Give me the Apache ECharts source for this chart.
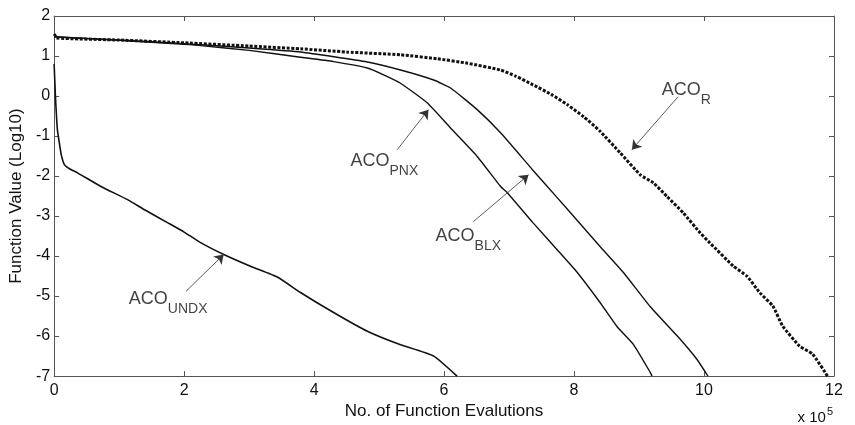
<!DOCTYPE html>
<html><head><meta charset="utf-8">
<script src="https://cdn.jsdelivr.net/npm/echarts@6/dist/echarts.min.js"></script>
<style>html,body{margin:0;padding:0;background:#fff}#c{width:855px;height:425px}</style>
</head><body><div id="c"></div>
<script>
// x in units of 10^5 function evaluations, y = log10 function value
const undxX = [0, 0.02, 0.05, 0.08, 0.11, 0.16, 0.25, 0.36, 0.72, 1.13, 1.4, 1.75, 2.0, 2.26, 2.61, 3.03, 3.44, 3.79, 4.3, 4.82, 5.3, 5.84, 6.2];
const undxY = [0.8, 0.0, -0.84, -1.17, -1.47, -1.72, -1.83, -1.92, -2.26, -2.59, -2.85, -3.17, -3.4, -3.67, -3.96, -4.26, -4.53, -4.91, -5.41, -5.88, -6.2, -6.5, -7.0];

const pnxX = [0, 1, 2, 2.26, 3, 3.79, 4.3, 4.82, 5.07, 5.33, 5.74, 6.1, 6.51, 6.87, 6.97, 7.37, 7.74, 8.05, 8.4, 8.66, 8.91, 9.17, 9.2];
const pnxY = [1.48, 1.39, 1.29, 1.26, 1.14, 0.97, 0.86, 0.70, 0.53, 0.32, -0.17, -0.8, -1.51, -2.26, -2.41, -3.17, -3.84, -4.41, -5.16, -5.76, -6.2, -6.9, -7.0];

const blxX = [0, 1, 2, 3, 3.79, 4.82, 5.33, 5.84, 6.1, 6.51, 6.87, 7.37, 7.74, 8.05, 8.4, 8.76, 9.17, 9.59, 9.89, 10.06];
const blxY = [1.48, 1.40, 1.31, 1.20, 1.10, 0.85, 0.65, 0.40, 0.2, -0.34, -0.92, -1.86, -2.54, -3.11, -3.76, -4.41, -5.26, -6.0, -6.58, -7.0];

const rX = [0, 0.05, 1, 2, 3, 3.79, 4.5, 5.33, 5.9, 6.36, 6.87, 7.1, 7.37, 7.65, 7.9, 8.15, 8.4, 8.71, 9.02, 9.22, 9.43, 9.68, 9.94, 10.09, 10.45, 10.66, 10.86, 11.06, 11.21, 11.47, 11.67, 11.9];
const rY = [1.55, 1.45, 1.40, 1.33, 1.25, 1.18, 1.1, 1.03, 0.93, 0.82, 0.65, 0.5, 0.28, 0.04, -0.22, -0.52, -0.88, -1.42, -1.97, -2.17, -2.51, -2.92, -3.42, -3.67, -4.25, -4.50, -4.92, -5.25, -5.75, -6.25, -6.45, -7.0];

const xTicks = [0, 2, 4, 6, 8, 10, 12];
const yTicks = [-7, -6, -5, -4, -3, -2, -1, 0, 1, 2];

// annotations
const annNames = ['ACO', 'ACO', 'ACO', 'ACO'];
const annSubs = ['UNDX', 'PNX', 'BLX', 'R'];
const annLabelPos = [[1.15, -5.08], [4.56, -1.62], [5.87, -3.51], [9.35, 0.15]];
const annArrowFrom = [[2.03, -4.88], [5.28, -1.34], [6.45, -3.14], [9.60, -0.02]];
const annArrowTo = [[2.61, -3.96], [5.76, -0.34], [7.30, -1.97], [8.89, -1.34]];

const zip = (a, b) => a.map((v, i) => [v, b[i]]);
const FONT = 'Liberation Sans, Arial, sans-serif';
const axisCol = '#555';

const chart = echarts.init(document.getElementById('c'));
const baseX = {
  type: 'value', min: 0, max: 12, interval: 2,
  axisLine: { show: true, onZero: false, lineStyle: { color: axisCol, width: 1 } },
  axisTick: { show: true, inside: true, length: 5, lineStyle: { color: axisCol } },
  splitLine: { show: false }
};
const baseY = {
  type: 'value', min: -7, max: 2, interval: 1,
  axisLine: { show: true, onZero: false, lineStyle: { color: axisCol, width: 1 } },
  axisTick: { show: true, inside: true, length: 5, lineStyle: { color: axisCol } },
  splitLine: { show: false }
};

const lineSeries = (data, style) => ({
  type: 'line', data, symbol: 'none', smooth: 0.15, silent: true,
  lineStyle: style, xAxisIndex: 0, yAxisIndex: 0
});

chart.setOption({
  animation: false,
  textStyle: { fontFamily: FONT },
  grid: { left: 53, right: 21, top: 16, bottom: 48 },
  xAxis: [
    Object.assign({}, baseX, {
      position: 'bottom',
      name: 'No. of Function Evalutions', nameLocation: 'middle', nameGap: 24,
      nameTextStyle: { fontSize: 17, color: '#111', fontFamily: FONT },
      axisLabel: { show: true, fontSize: 16, color: '#111', margin: 6, fontFamily: FONT,
        formatter: v => xTicks.includes(v) ? String(v) : '' }
    }),
    Object.assign({}, baseX, { position: 'top', axisLabel: { show: false } })
  ],
  yAxis: [
    Object.assign({}, baseY, {
      position: 'left',
      name: 'Function Value (Log10)', nameLocation: 'middle', nameGap: 25,
      nameTextStyle: { fontSize: 17, color: '#111', fontFamily: FONT },
      axisLabel: { show: true, fontSize: 16, color: '#111', margin: 4, fontFamily: FONT,
        formatter: v => yTicks.includes(v) ? String(v) : '' }
    }),
    Object.assign({}, baseY, { position: 'right', axisLabel: { show: false } })
  ],
  graphic: [{
    type: 'text', right: 22, bottom: 0,
    style: {
      text: '{a|x 10}{b|5}', fontFamily: FONT,
      rich: { a: { fontSize: 15, fill: '#111', fontFamily: FONT },
              b: { fontSize: 11, fill: '#111', fontFamily: FONT, padding: [0, 0, 12, 1] } }
    }
  }],
  series: [
    lineSeries(zip(undxX, undxY), { color: '#111', width: 1.6 }),
    lineSeries(zip(pnxX, pnxY), { color: '#111', width: 1.4 }),
    lineSeries(zip(blxX, blxY), { color: '#111', width: 1.4 }),
    lineSeries(zip(rX, rY), { color: '#111', width: 3, type: [3, 1.6] }),
    {
      type: 'line', data: [], silent: true,
      markLine: {
        silent: true, symbol: ['none', 'arrow'], symbolSize: 9,
        label: { show: false },
        lineStyle: { color: '#333', width: 0.8, type: 'solid', opacity: 1 },
        itemStyle: { color: '#111' },
        data: annArrowFrom.map((f, i) => [{ coord: f }, { coord: annArrowTo[i] }])
      }
    },
    {
      type: 'scatter', symbolSize: 0, silent: true,
      data: annLabelPos.map((p, i) => ({ value: p })),
      label: {
        show: true, position: 'right', distance: 0, fontFamily: FONT, color: '#111',
        formatter: p => '{a|' + annNames[p.dataIndex] + '}{b|' + annSubs[p.dataIndex] + '}',
        rich: {
          a: { fontSize: 18, color: '#111', fontFamily: FONT },
          b: { fontSize: 14, color: '#111', fontFamily: FONT, padding: [20, 0, 0, 0] }
        }
      }
    }
  ]
});
</script></body></html>
